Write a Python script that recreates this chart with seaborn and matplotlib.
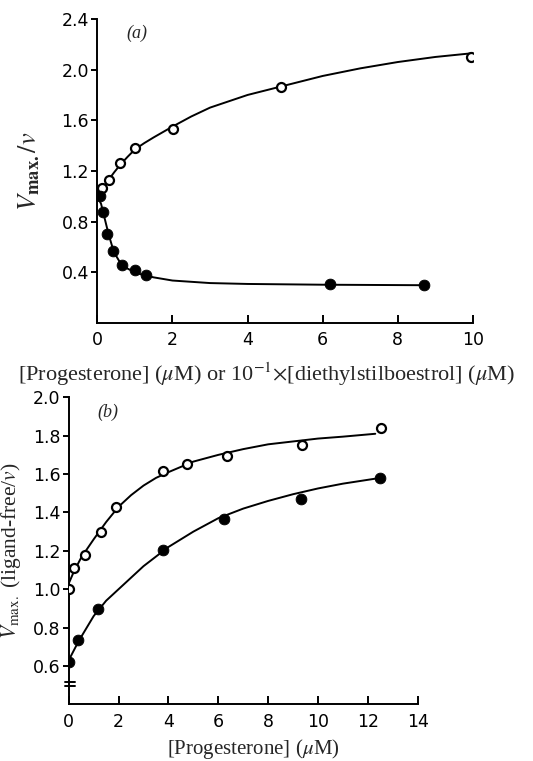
import numpy as np
import pandas as pd
import matplotlib
matplotlib.use("Agg")
import matplotlib.pyplot as plt
import seaborn as sns

# Panel (a): open = progesterone, filled = diethylstilboestrol (x 10^-1)
a_open_x = [0.115, 0.32, 0.61, 1.01, 2.01, 4.88, 9.96]
a_open_y = [1.064, 1.13, 1.26, 1.38, 1.535, 1.86, 2.10]
a_filled_x = [0.07, 0.16, 0.27, 0.42, 0.66, 1.01, 1.30, 6.2, 8.7]
a_filled_y = [1.00, 0.878, 0.70, 0.565, 0.455, 0.418, 0.382, 0.304, 0.298]

# fitted curves (a)
a_open_curve_x = [0, 0.1, 0.2, 0.3, 0.45, 0.6, 0.8, 1.0, 1.25, 1.5, 2.0, 2.5, 3.0, 4.0, 5.0, 6.0, 7.0, 8.0, 9.0, 10.0]
a_open_curve_y = [1.00, 1.05, 1.09, 1.13, 1.19, 1.245, 1.31, 1.37, 1.42, 1.465, 1.55, 1.63, 1.70, 1.80, 1.875, 1.95, 2.01, 2.06, 2.10, 2.13]
a_filled_curve_x = [0, 0.1, 0.2, 0.3, 0.4, 0.5, 0.6, 0.8, 1.0, 1.2, 1.5, 2.0, 3.0, 4.0, 6.0, 8.7]
a_filled_curve_y = [1.00, 0.94, 0.82, 0.70, 0.60, 0.53, 0.48, 0.43, 0.40, 0.38, 0.36, 0.335, 0.315, 0.308, 0.302, 0.298]

# Panel (b)
b_open_x = [0.01, 0.2, 0.64, 1.31, 1.91, 3.79, 4.76, 6.33, 9.34, 12.53]
b_open_y = [1.00, 1.11, 1.18, 1.30, 1.43, 1.614, 1.652, 1.692, 1.753, 1.84]
b_filled_x = [0.01, 0.37, 1.18, 3.77, 6.24, 9.31, 12.5]
b_filled_y = [0.622, 0.736, 0.898, 1.206, 1.368, 1.47, 1.58]

b_open_curve_x = [0, 0.2, 0.5, 1.0, 1.5, 2.0, 2.5, 3.0, 3.5, 4.0, 5.0, 6.0, 7.0, 8.0, 9.0, 10.0, 11.0, 12.3]
b_open_curve_y = [1.03, 1.09, 1.165, 1.26, 1.35, 1.43, 1.49, 1.54, 1.58, 1.61, 1.665, 1.70, 1.73, 1.755, 1.77, 1.785, 1.795, 1.81]
b_filled_curve_x = [0, 0.4, 1.0, 1.5, 2.0, 3.0, 4.0, 5.0, 6.0, 7.0, 8.0, 9.0, 10.0, 11.0, 12.5]
b_filled_curve_y = [0.63, 0.73, 0.86, 0.94, 1.00, 1.12, 1.22, 1.30, 1.37, 1.42, 1.46, 1.495, 1.525, 1.55, 1.58]

a_yticks = [0.4, 0.8, 1.2, 1.6, 2.0, 2.4]
a_xticks = [0, 2, 4, 6, 8, 10]
b_yticks = [0.6, 0.8, 1.0, 1.2, 1.4, 1.6, 1.8, 2.0]
b_xticks = [0, 2, 4, 6, 8, 10, 12, 14]
b_break_y = [0.518, 0.496]  # axis break marks

sns.set_theme(style="ticks")
plt.rcParams["font.family"] = ["Liberation Serif", "DejaVu Serif"]
plt.rcParams["mathtext.fontset"] = "stix"

fig = plt.figure(figsize=(5.33, 7.61), dpi=100)
ax_a = fig.add_axes([0.1826, 0.5756, 0.7048, 0.3995])
ax_b = fig.add_axes([0.129, 0.0745, 0.6546, 0.4034])

line_kw = dict(color="black", linewidth=1.4)
open_kw = dict(s=42, facecolor="white", edgecolor="black", linewidth=1.6, zorder=3)
filled_kw = dict(s=60, color="black", edgecolor="black", zorder=3)


def draw(ax, curves, opens, filleds):
    for cx, cy in curves:
        sns.lineplot(x=cx, y=cy, ax=ax, sort=False, **line_kw)
    sns.scatterplot(x=opens[0], y=opens[1], ax=ax, **open_kw)
    sns.scatterplot(x=filleds[0], y=filleds[1], ax=ax, **filled_kw)
    sns.despine(ax=ax)
    for side in ["left", "bottom"]:
        ax.spines[side].set_linewidth(1.4)
        ax.spines[side].set_color("black")
    ax.tick_params(axis="x", direction="in", length=6, width=1.4, pad=6, labelsize=12.5, colors="black")
    ax.tick_params(axis="y", direction="out", length=4, width=1.4, pad=2, labelsize=12.5, colors="black")


# (a)
draw(ax_a,
     [(a_open_curve_x, a_open_curve_y), (a_filled_curve_x, a_filled_curve_y)],
     (a_open_x, a_open_y), (a_filled_x, a_filled_y))
ax_a.set_xlim(0, 10)
ax_a.set_ylim(0, 2.4)
ax_a.set_xticks(a_xticks)
ax_a.set_xticklabels([str(t) for t in a_xticks], family="DejaVu Sans")
ax_a.set_yticks(a_yticks)
ax_a.set_yticklabels([f"{t:.1f}" for t in a_yticks], family="DejaVu Sans")
ax_a.set_ylabel(r"$\mathbf{\mathit{V}}_{\mathbf{max.}}/\mathit{v}$", fontsize=19)
ax_a.yaxis.set_label_coords(-0.147, 0.5)
ax_a.set_xlabel(r"[Progesterone] ($\mathit{\mu}$M) or 10$^{-1}$$\times$[diethylstilboestrol] ($\mathit{\mu}$M)",
                fontsize=16)
ax_a.xaxis.set_label_coords(0.45, -0.125)
ax_a.xaxis.label.set_va("top")
ax_a.text(1.05, 2.29, "(a)", fontsize=13, style="italic", ha="center", va="center")

# (b)
draw(ax_b,
     [(b_open_curve_x, b_open_curve_y), (b_filled_curve_x, b_filled_curve_y)],
     (b_open_x, b_open_y), (b_filled_x, b_filled_y))
ax_b.set_xlim(0, 14)
ax_b.set_ylim(0.4, 2.0)
ax_b.set_xticks(b_xticks)
ax_b.set_xticklabels([str(t) for t in b_xticks], family="DejaVu Sans")
ax_b.set_yticks(b_yticks)
ax_b.set_yticklabels([f"{t:.1f}" for t in b_yticks], family="DejaVu Sans")
ax_b.set_ylabel(r"$\mathit{V}_{\mathrm{max.}}$ (ligand-free/$\mathit{v}$)", fontsize=15.5)
ax_b.yaxis.set_label_coords(-0.131, 0.5)
ax_b.set_xlabel(r"[Progesterone] ($\mathit{\mu}$M)", fontsize=15)
ax_b.xaxis.set_label_coords(0.528, -0.105)
ax_b.xaxis.label.set_va("top")
ax_b.text(1.56, 1.92, "(b)", fontsize=13, style="italic", ha="center", va="center")
for yb in b_break_y:
    ax_b.plot([-0.011, 0.018], [yb, yb], transform=ax_b.get_yaxis_transform(),
              color="black", linewidth=1.4, clip_on=False)

fig.savefig("out.png", dpi=100, facecolor="white")
